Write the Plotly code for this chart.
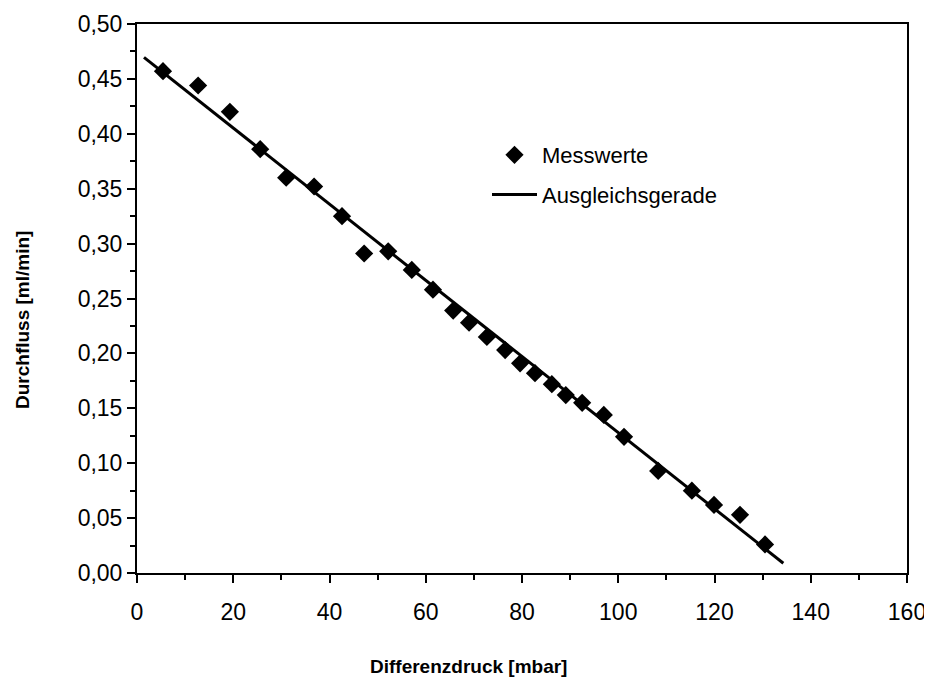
import plotly.graph_objects as go

# Messwerte (Differenzdruck in mbar, Durchfluss in ml/min)
druck = [5.4, 12.7, 19.3, 25.6, 31.0, 36.8, 42.6, 47.2, 52.2, 57.1, 61.5, 65.7, 69.0,
         72.7, 76.5, 79.6, 82.7, 86.2, 89.1, 92.5, 97.0, 101.2, 108.3, 115.3, 119.9,
         125.3, 130.5]
durchfluss = [0.457, 0.444, 0.420, 0.386, 0.360, 0.352, 0.325, 0.291, 0.293, 0.276,
              0.258, 0.239, 0.228, 0.215, 0.203, 0.191, 0.182, 0.172, 0.162, 0.155,
              0.144, 0.124, 0.093, 0.075, 0.062, 0.053, 0.026]

# Ausgleichsgerade (Endpunkte)
fit_x = [1.45, 134.3]
fit_y = [0.4696, 0.0089]

x_ticks = [0, 20, 40, 60, 80, 100, 120, 140, 160]
y_ticks = [0.00, 0.05, 0.10, 0.15, 0.20, 0.25, 0.30, 0.35, 0.40, 0.45, 0.50]

FONT = "Liberation Sans, Arial, sans-serif"

# page offset (default body margin of the html page)
OFF = 8
PL, PR, PT, PB = 137, 907, 24, 573  # plot area in page pixels
W, H = 932, 690

fig = go.Figure()
fig.add_trace(go.Scatter(
    x=druck, y=durchfluss, mode="markers", name="Messwerte",
    marker=dict(symbol="diamond", size=14, color="black"),
    legendgroup="a",
))
fig.add_trace(go.Scatter(
    x=fit_x, y=fit_y, mode="lines", name="Ausgleichsgerade",
    line=dict(color="black", width=3),
    legendgroup="b",
))

axis_common = dict(
    showline=True, linecolor="black", linewidth=2, mirror=True,
    ticks="outside", ticklen=8, tickwidth=2, tickcolor="black",
    showgrid=False, zeroline=False,
    tickfont=dict(family=FONT, size=23, color="black"),
)

fig.update_xaxes(range=[0, 160], tickvals=x_ticks, ticktext=[str(v) for v in x_ticks],
                 minor=dict(dtick=10, ticks="outside", ticklen=5, tickwidth=2, tickcolor="black"),
                 ticklabelstandoff=9,
                 **axis_common)
fig.update_yaxes(range=[0, 0.5], tickvals=y_ticks,
                 ticktext=[f"{v:.2f}".replace(".", ",") for v in y_ticks],
                 minor=dict(dtick=0.025, ticks="outside", ticklen=5, tickwidth=2, tickcolor="black"),
                 **axis_common)

pw = PR - PL
ph = PB - PT

fig.update_layout(
    width=W, height=H,
    margin=dict(l=PL - OFF, r=W - PR + OFF, t=PT - OFF, b=H - PB + OFF, autoexpand=False),
    plot_bgcolor="white", paper_bgcolor="white",
    font=dict(family=FONT, color="black"),
    showlegend=True,
    legend=dict(
        x=(487 - PL) / pw, y=(PB - 134) / ph, xanchor="left", yanchor="top",
        font=dict(family=FONT, size=22, color="black"),
        bgcolor="rgba(0,0,0,0)", traceorder="grouped", tracegroupgap=8,
        itemwidth=45,
    ),
    annotations=[
        dict(text="<b>Differenzdruck [mbar]</b>", xref="paper", yref="paper",
             x=(468 - PL) / pw, y=(PB - 667) / ph, xanchor="center", yanchor="middle",
             showarrow=False, font=dict(family=FONT, size=19, color="black")),
        dict(text="<b>Durchfluss [ml/min]</b>", xref="paper", yref="paper",
             x=(22 - PL) / pw, y=(PB - 320) / ph, xanchor="center", yanchor="middle",
             textangle=-90, showarrow=False, font=dict(family=FONT, size=19, color="black")),
    ],
)

fig.write_html("out.html")
